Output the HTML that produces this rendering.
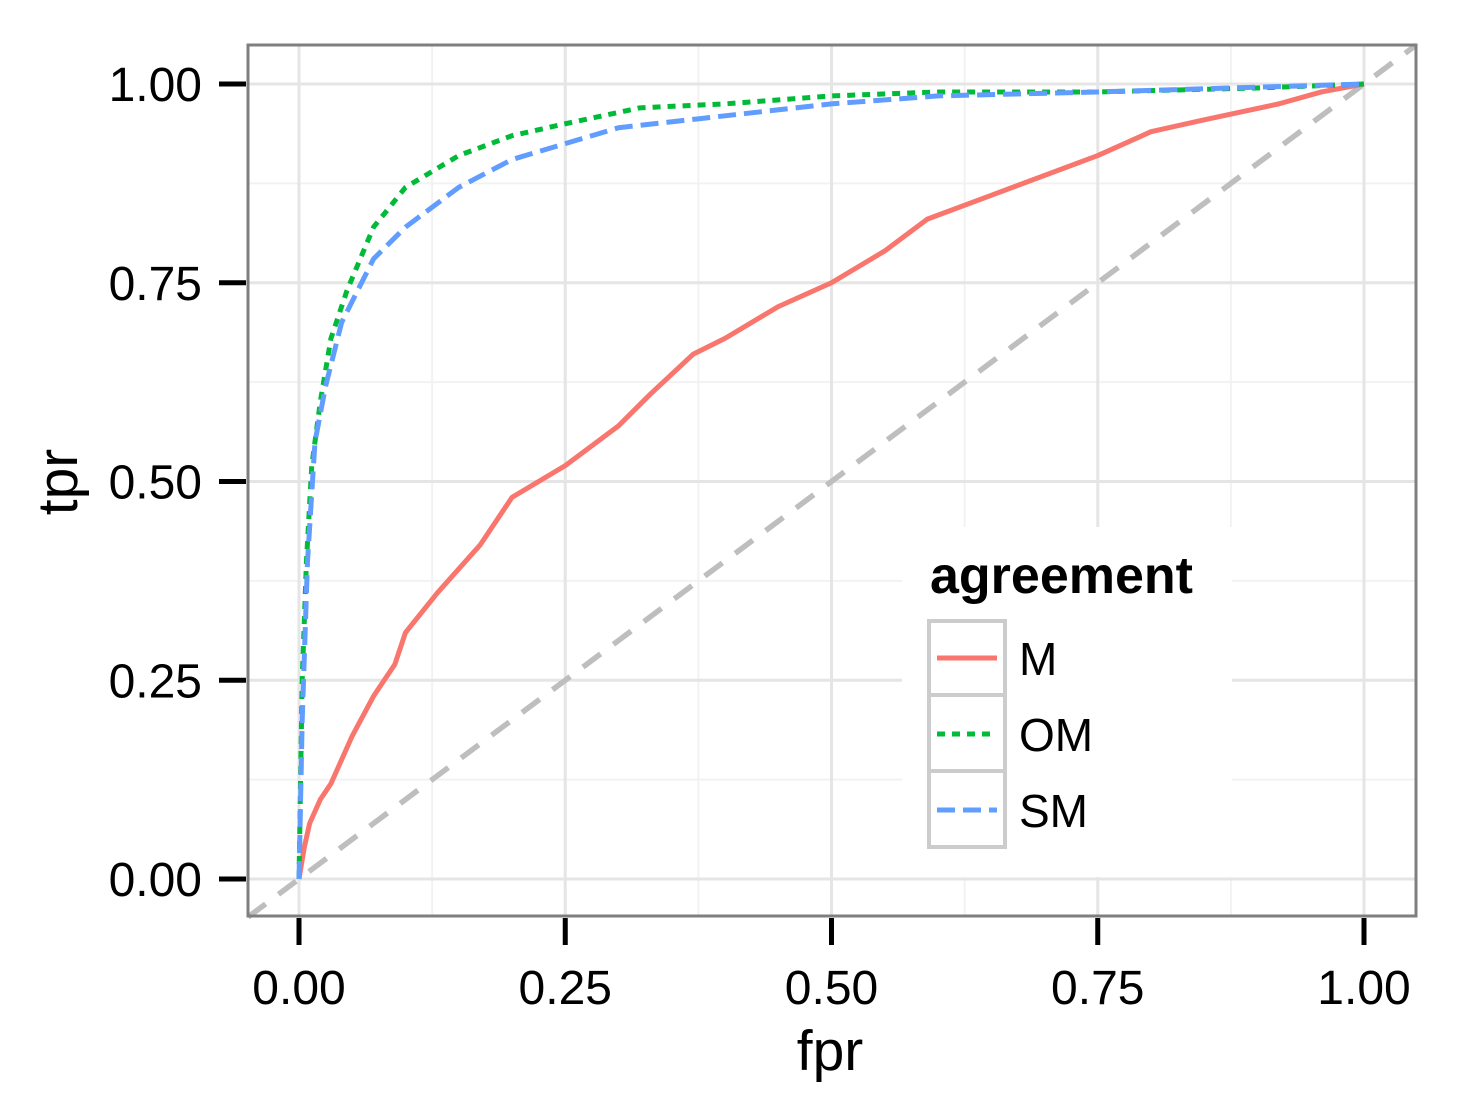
<!DOCTYPE html>
<html><head><meta charset="utf-8"><style>
html,body{margin:0;padding:0;background:#fff}
svg{display:block;font-family:"Liberation Sans",Arial,sans-serif}
</style></head><body>
<svg id="chart" width="1466" height="1106" viewBox="0 0 1466 1106">
<rect x="0" y="0" width="1466" height="1106" fill="#fff"/>
<g id="grid"></g>
<g id="diag"></g>
<g id="series"></g>
<rect x="248" y="45" width="1168" height="871" fill="none" stroke="#7f7f7f" stroke-width="3"/>
<g id="axes"></g>
<text x="830" y="1070" font-size="57" text-anchor="middle" fill="#000">fpr</text>
<text transform="translate(77,482) rotate(-90)" font-size="57" text-anchor="middle" fill="#000">tpr</text>
<g>
<rect x="902" y="527" width="330" height="350" fill="#fff"/>
<text x="930" y="593" font-size="52" font-weight="bold" fill="#000">agreement</text>
<g>
<rect x="929" y="621" width="76" height="74" fill="#fff" stroke="#cccccc" stroke-width="4"/>
<line x1="937" y1="658" x2="997" y2="658" stroke="#F8766D" stroke-width="5"/>
<text x="1019" y="675" font-size="46" fill="#000">M</text></g>
<g>
<rect x="929" y="695" width="76" height="76" fill="#fff" stroke="#cccccc" stroke-width="4"/>
<line x1="937" y1="734" x2="997" y2="734" stroke="#00BA38" stroke-width="5" stroke-dasharray="8,7"/>
<text x="1019" y="751" font-size="46" fill="#000">OM</text></g>
<g>
<rect x="929" y="771" width="76" height="76" fill="#fff" stroke="#cccccc" stroke-width="4"/>
<line x1="937" y1="810" x2="997" y2="810" stroke="#619CFF" stroke-width="5" stroke-dasharray="18,8"/>
<text x="1019" y="827" font-size="46" fill="#000">SM</text></g>
</g>
</svg>
<script>
const ticks=[0,0.25,0.5,0.75,1];
const tickLabels=["0.00","0.25","0.50","0.75","1.00"];
const minorTicks=[0.125,0.375,0.625,0.875];
const mFpr=[0,0.005,0.01,0.02,0.03,0.05,0.07,0.09,0.1,0.13,0.17,0.2,0.25,0.3,0.33,0.37,0.4,0.45,0.5,0.55,0.59,0.65,0.75,0.8,0.85,0.92,0.96,1];
const mTpr=[0,0.04,0.07,0.1,0.12,0.18,0.23,0.27,0.31,0.36,0.42,0.48,0.52,0.57,0.61,0.66,0.68,0.72,0.75,0.79,0.83,0.86,0.91,0.94,0.955,0.975,0.99,1];
const omFpr=[0,0.003,0.007,0.012,0.02,0.03,0.045,0.07,0.1,0.15,0.2,0.25,0.32,0.4,0.5,0.6,0.75,0.9,1];
const omTpr=[0,0.25,0.4,0.52,0.6,0.68,0.74,0.82,0.87,0.91,0.935,0.95,0.97,0.975,0.985,0.99,0.99,0.995,1];
const smFpr=[0,0.003,0.008,0.015,0.025,0.04,0.07,0.1,0.15,0.2,0.25,0.3,0.4,0.5,0.6,0.75,1];
const smTpr=[0,0.2,0.4,0.55,0.62,0.7,0.78,0.82,0.87,0.905,0.925,0.945,0.96,0.975,0.985,0.99,1];
const NS="http://www.w3.org/2000/svg";
const sx=v=>299+v*1065, sy=v=>879-v*795;
function mk(tag,attrs,parent){const e=document.createElementNS(NS,tag);for(const k in attrs)e.setAttribute(k,attrs[k]);parent.appendChild(e);return e;}
const grid=document.getElementById('grid'),axes=document.getElementById('axes'),series=document.getElementById('series'),diag=document.getElementById('diag');
minorTicks.forEach(t=>{
 let l=mk('line',{x1:sx(t),x2:sx(t),y1:45,y2:916,stroke:'#f2f2f2','stroke-width':2},grid);
 
 
 l=mk('line',{y1:sy(t),y2:sy(t),x1:248,x2:1416,stroke:'#f2f2f2','stroke-width':2},grid);
 
 
});
ticks.forEach((t,i)=>{
 let l=mk('line',{x1:sx(t),x2:sx(t),y1:45,y2:916,stroke:'#e5e5e5','stroke-width':3},grid);
 
 
 l=mk('line',{y1:sy(t),y2:sy(t),x1:248,x2:1416,stroke:'#e5e5e5','stroke-width':3},grid);
 
 
 l=mk('line',{x1:sx(t),x2:sx(t),y1:918,y2:945,stroke:'#000','stroke-width':5},axes);
 
 
 l=mk('line',{y1:sy(t),y2:sy(t),x1:219,x2:246,stroke:'#000','stroke-width':5},axes);
 
 
 let tx=mk('text',{x:sx(t),y:1004,'font-size':48,'text-anchor':'middle',fill:'#000'},axes);
 tx.textContent=tickLabels[i];
 
 
 tx=mk('text',{x:202,y:sy(t)+17,'font-size':48,'text-anchor':'end',fill:'#000'},axes);
 tx.textContent=tickLabels[i];
 
 
});
const dl=mk('line',{x1:248,y1:sy((248-299)/1065),x2:1416,y2:sy((1416-299)/1065),stroke:'#bebebe','stroke-width':5.5,'stroke-dasharray':'22,16'},diag);


function line(xs,ys,color,dash,name){
 const p=mk('polyline',{points:xs.map((x,i)=>sx(x)+','+sy(ys[i])).join(' '),fill:'none',stroke:color,'stroke-width':5,'stroke-linejoin':'round','stroke-dasharray':dash},series);
 
 
}
line(mFpr,mTpr,'#F8766D','none','series-m');
line(omFpr,omTpr,'#00BA38','8,7','series-om');
line(smFpr,smTpr,'#619CFF','18,8','series-sm');
</script>
</body></html>
